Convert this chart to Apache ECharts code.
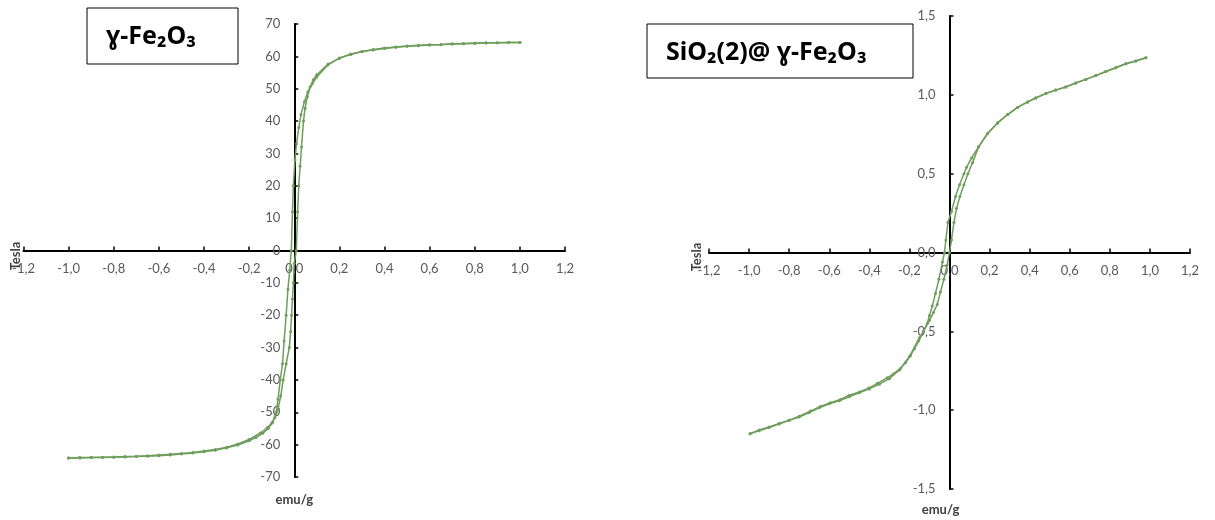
<!DOCTYPE html>
<html>
<head>
<meta charset="utf-8">
<script src="https://cdn.jsdelivr.net/npm/echarts@6/dist/echarts.min.js"></script>
<style>html,body{margin:0;padding:0;background:#fff}#c{width:1215px;height:520px}</style>
</head>
<body>
<div id="c"></div>
<script>
// ---- Left chart: γ-Fe2O3 ----
const leftDescX = [1.0,0.95,0.9,0.85,0.8,0.75,0.7,0.65,0.6,0.55,0.5,0.45,0.4,0.35,0.3,0.25,0.2,0.15,0.1,0.08,0.06,0.045,0.03,0.02,0.01,0.003,-0.004,-0.008,-0.013,-0.02,-0.028,-0.036,-0.045,-0.052,-0.062,-0.072,-0.08,-0.095,-0.115,-0.14,-0.17,-0.2,-0.25,-0.3,-0.35,-0.4,-0.45,-0.5,-0.55,-0.6,-0.65,-0.7,-0.75,-0.8,-0.85,-0.9,-0.95,-1.0];
const leftDescY = [64.3,64.3,64.2,64.1,64.0,63.9,63.8,63.6,63.5,63.3,63.1,62.8,62.4,62.0,61.4,60.7,59.5,57.4,53.6,51.5,49,46,42,38,33,28,20,12,0,-6,-12,-20,-28,-35,-40,-46,-50,-53,-55,-56.5,-57.8,-58.8,-60.1,-61,-61.7,-62.2,-62.6,-62.9,-63.2,-63.4,-63.6,-63.7,-63.8,-63.9,-64.0,-64.0,-64.1,-64.1];
const leftAscX = [-1.0,-0.95,-0.9,-0.85,-0.8,-0.75,-0.7,-0.65,-0.6,-0.55,-0.5,-0.45,-0.4,-0.35,-0.3,-0.25,-0.2,-0.15,-0.12,-0.1,-0.085,-0.072,-0.06,-0.049,-0.036,-0.022,-0.016,-0.012,-0.008,-0.004,0.0,0.009,0.015,0.02,0.026,0.032,0.041,0.048,0.058,0.07,0.085,0.1,0.15,0.2,0.25,0.3,0.35,0.4,0.45,0.5,0.55,0.6,0.65,0.7,0.75,0.8,0.85,0.9,0.95,1.0];
const leftAscY = [-64.1,-64.0,-64.0,-63.9,-63.8,-63.7,-63.6,-63.4,-63.2,-63.0,-62.7,-62.4,-62.0,-61.5,-60.8,-59.8,-58.4,-56.4,-54.8,-53.4,-51.5,-49,-45,-40,-35,-30,-25,-20,-15,-10,-4,0,12,20,26,32,40,44,47.5,50.5,52.8,54.3,57.6,59.4,60.6,61.5,62.1,62.6,62.9,63.2,63.4,63.6,63.7,63.9,64.0,64.1,64.2,64.2,64.3,64.3];

// ---- Right chart: SiO2(2)@ γ-Fe2O3 ----
const rightDescX = [0.98,0.93,0.88,0.83,0.78,0.73,0.68,0.63,0.58,0.53,0.48,0.43,0.39,0.34,0.29,0.24,0.19,0.145,0.11,0.085,0.072,0.05,0.03,0.01,-0.008,-0.018,-0.025,-0.035,-0.053,-0.07,-0.086,-0.1,-0.111,-0.13,-0.153,-0.175,-0.195,-0.22,-0.245,-0.28,-0.311,-0.36,-0.403,-0.45,-0.5,-0.544,-0.594,-0.644,-0.694,-0.75,-0.8,-0.85,-0.9,-0.95,-0.995];
const rightDescY = [1.235,1.215,1.197,1.172,1.148,1.122,1.098,1.075,1.05,1.03,1.008,0.98,0.955,0.92,0.875,0.822,0.755,0.67,0.6,0.54,0.5,0.43,0.355,0.26,0.19,0.08,0.0,-0.06,-0.17,-0.26,-0.34,-0.4,-0.45,-0.5,-0.56,-0.61,-0.655,-0.7,-0.735,-0.77,-0.795,-0.83,-0.86,-0.885,-0.905,-0.932,-0.953,-0.977,-1.006,-1.038,-1.063,-1.084,-1.106,-1.126,-1.149];
const rightAscX = [-0.995,-0.95,-0.9,-0.85,-0.8,-0.75,-0.7,-0.65,-0.6,-0.55,-0.5,-0.45,-0.4,-0.35,-0.3,-0.25,-0.2,-0.15,-0.13,-0.1,-0.08,-0.061,-0.045,-0.028,-0.012,0.0,0.01,0.022,0.035,0.052,0.072,0.092,0.115,0.145,0.19,0.24,0.29,0.34,0.39,0.43,0.48,0.53,0.58,0.63,0.68,0.73,0.78,0.83,0.88,0.93,0.98];
const rightAscY = [-1.149,-1.13,-1.11,-1.088,-1.065,-1.043,-1.015,-0.985,-0.96,-0.94,-0.915,-0.89,-0.865,-0.835,-0.8,-0.745,-0.66,-0.54,-0.5,-0.43,-0.38,-0.33,-0.25,-0.17,-0.08,0.0,0.08,0.19,0.28,0.355,0.43,0.5,0.57,0.67,0.755,0.822,0.875,0.92,0.955,0.98,1.008,1.03,1.05,1.075,1.098,1.122,1.148,1.172,1.197,1.215,1.235];

const leftTitle = 'ɣ-Fe₂O₃';
const rightTitle = 'SiO₂(2)@ ɣ-Fe₂O₃';
const xName = 'Tesla';
const yName = 'emu/g';

function zip(xs, ys) { return xs.map((x, i) => [x, ys[i]]); }
function comma(d) { return v => { if (Math.abs(v) < 1e-9) v = 0; return v.toFixed(d).replace('.', ','); }; }

const green = '#6f9e5c';
const labelFont = { color: '#595959', fontSize: 13, fontFamily: 'Lato' };

const G = [
  { left: 23.5, top: 24, width: 541.5, height: 453 },
  { left: 709, top: 16, width: 481, height: 473 }
];

function xAxisCfg(gi) {
  return {
    gridIndex: gi, type: 'value', min: -1.2, max: 1.2, interval: 0.2,
    position: 'bottom', offset: -G[gi].height / 2,
    axisLine: { onZero: false, lineStyle: { color: '#000', width: 2 } },
    axisTick: { show: true, inside: true, length: 4, lineStyle: { color: '#000', width: 1.5 } },
    axisLabel: Object.assign({ margin: 12, formatter: comma(1) }, labelFont),
    splitLine: { show: false }
  };
}
function yAxisCfg(gi, min, max, interval, fmt, gap, pad) {
  return {
    gridIndex: gi, type: 'value', min: min, max: max, interval: interval,
    position: 'left', offset: -G[gi].width / 2,
    axisLine: { onZero: false, lineStyle: { color: '#000', width: 2 } },
    axisTick: { show: true, inside: true, length: 4, lineStyle: { color: '#000', width: 1.5 } },
    axisLabel: Object.assign({ margin: 14, formatter: fmt }, labelFont),
    splitLine: { show: false },
    name: yName, nameLocation: 'start', nameGap: gap,
    nameTextStyle: { color: '#404040', fontSize: 13, fontWeight: 'bold', fontFamily: 'Lato', padding: pad }
  };
}
function lineSeries(xi, yi, data) {
  return {
    type: 'line', xAxisIndex: xi, yAxisIndex: yi, data: data,
    symbol: 'circle', symbolSize: 3, showSymbol: true,
    lineStyle: { color: green, width: 1.5 }, itemStyle: { color: green },
    silent: true
  };
}

const chart = echarts.init(document.getElementById('c'), null, { renderer: 'canvas' });
chart.setOption({
  animation: false,
  backgroundColor: '#fff',
  grid: G.map(g => Object.assign({ containLabel: false }, g)),
  xAxis: [xAxisCfg(0), xAxisCfg(1)],
  yAxis: [
    yAxisCfg(0, -70, 70, 10, v => String(Math.round(v)), 16, [0, 0, 0, 0]),
    yAxisCfg(1, -1.5, 1.5, 0.5, comma(1), 14, [0, 18, 0, 0])
  ],
  series: [
    lineSeries(0, 0, zip(leftDescX, leftDescY)),
    lineSeries(0, 0, zip(leftAscX, leftAscY)),
    lineSeries(1, 1, zip(rightDescX, rightDescY)),
    lineSeries(1, 1, zip(rightAscX, rightAscY))
  ],
  graphic: [
    { type: 'rect', shape: { x: 87, y: 8, width: 151, height: 56 }, style: { fill: '#fff', stroke: '#000', lineWidth: 1 }, z: 10 },
    { type: 'text', x: 106, y: 37, style: { text: leftTitle, font: 'bold 25px "Noto Sans"', fill: '#000', textVerticalAlign: 'middle', textAlign: 'left' }, z: 11 },
    { type: 'rect', shape: { x: 647, y: 24, width: 266, height: 54 }, style: { fill: '#fff', stroke: '#000', lineWidth: 1 }, z: 10 },
    { type: 'text', x: 666, y: 53, style: { text: rightTitle, font: 'bold 25px "Noto Sans"', fill: '#000', textVerticalAlign: 'middle', textAlign: 'left' }, z: 11 },
    { type: 'text', x: 16, y: 256, rotation: Math.PI / 2, style: { text: xName, font: 'bold 13px Lato', fill: '#404040', textVerticalAlign: 'middle', textAlign: 'center' }, z: 11 },
    { type: 'text', x: 697, y: 257, rotation: Math.PI / 2, style: { text: xName, font: 'bold 13px Lato', fill: '#404040', textVerticalAlign: 'middle', textAlign: 'center' }, z: 11 }
  ]
});
</script>
</body>
</html>
